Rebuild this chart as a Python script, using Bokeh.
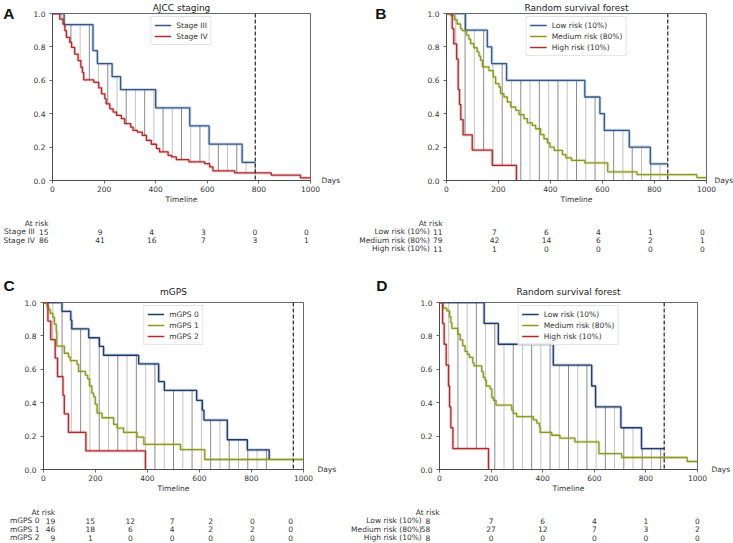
from bokeh.plotting import figure
from bokeh.models import (Legend, LegendItem, FixedTicker, Range1d, Span, NumeralTickFormatter,
                          LinearAxis, CustomJSTickFormatter)
from bokeh.layouts import row, column
from bokeh.core.properties import value
from bokeh.embed import file_html
from bokeh.resources import INLINE

# ---------------- data ----------------
x_ticks = [0, 200, 400, 600, 800, 1000]
y_ticks = [0.0, 0.2, 0.4, 0.6, 0.8, 1.0]

# Panel A: AJCC staging
A_stage3_t = [0, 45, 157, 174, 231, 264, 400, 532, 607, 735, 786]
A_stage3_s = [1.0, 0.933, 0.778, 0.700, 0.622, 0.544, 0.435, 0.327, 0.218, 0.109, 0.109]
A_stage4_t = [0, 28, 41, 48, 54, 67, 74, 86, 99, 110, 116, 121, 160, 179, 190, 203, 208, 222, 235, 248,
              267, 280, 303, 312, 329, 348, 364, 383, 403, 415, 448, 461, 480, 529, 590, 609, 622, 706, 848, 961, 1000]
A_stage4_s = [1.0, 0.966, 0.936, 0.897, 0.857, 0.827, 0.797, 0.757, 0.718, 0.678, 0.648, 0.602, 0.588, 0.555, 0.519,
              0.489, 0.459, 0.429, 0.410, 0.390, 0.370, 0.340, 0.320, 0.300, 0.290, 0.270, 0.240, 0.217, 0.191, 0.171,
              0.151, 0.141, 0.125, 0.111, 0.101, 0.082, 0.058, 0.046, 0.032, 0.016, 0.016]
A_labels = ["Stage III", "Stage IV"]
A_atrisk_t = [0, 200, 400, 600, 800, 1000]
A_atrisk = [[15, 9, 4, 3, 0, 0], [86, 41, 16, 7, 3, 1]]

# Panel B: Random survival forest
B_low_t = [0, 73, 157, 174, 231, 532, 590, 607, 703, 784, 851]
B_low_s = [1.0, 0.9, 0.8, 0.7, 0.6, 0.5, 0.4, 0.3, 0.2, 0.1, 0.1]
B_med_t = [0, 15, 31, 41, 54, 60, 77, 86, 93, 105, 118, 125, 131, 138, 163, 180, 189, 202, 208, 221,
           234, 247, 266, 279, 298, 311, 330, 343, 362, 375, 388, 398, 414, 446, 459, 481, 532, 620, 733, 963, 1000]
B_med_s = [1.0, 0.987, 0.962, 0.937, 0.91, 0.898, 0.87, 0.846, 0.82, 0.795, 0.77, 0.745, 0.72, 0.68, 0.658,
           0.62, 0.58, 0.56, 0.52, 0.5, 0.47, 0.44, 0.42, 0.395, 0.37, 0.345, 0.33, 0.31, 0.275, 0.25,
           0.225, 0.2, 0.18, 0.155, 0.135, 0.12, 0.105, 0.052, 0.035, 0.017, 0.017]
B_high_t = [0, 22, 28, 39, 45, 50, 55, 64, 99, 176, 269]
B_high_s = [1.0, 0.909, 0.818, 0.727, 0.545, 0.455, 0.364, 0.273, 0.182, 0.091, 0.0]
B_labels = ["Low risk (10%)", "Medium risk (80%)", "High risk (10%)"]
B_atrisk_t = [0, 200, 400, 600, 800, 1000]
B_atrisk = [[11, 7, 6, 4, 1, 0], [79, 42, 14, 6, 2, 1], [11, 1, 0, 0, 0, 0]]

# Panel C: mGPS
C_g0_t = [0, 71, 105, 109, 174, 215, 231, 366, 443, 465, 589, 611, 617, 707, 784, 868]
C_g0_s = [1.0, 0.947, 0.895, 0.842, 0.789, 0.737, 0.684, 0.632, 0.526, 0.474, 0.414, 0.355, 0.296, 0.178, 0.118, 0.059]
C_g1_t = [0, 13, 19, 26, 36, 42, 49, 51, 80, 96, 103, 129, 135, 161, 170, 177, 186, 193, 199, 206,
          225, 270, 283, 308, 360, 386, 527, 620, 1000]
C_g1_s = [1.0, 0.978, 0.957, 0.935, 0.913, 0.87, 0.826, 0.739, 0.696, 0.674, 0.652, 0.63, 0.587, 0.565, 0.543,
          0.5, 0.457, 0.435, 0.391, 0.337, 0.31, 0.27, 0.248, 0.222, 0.194, 0.15, 0.119, 0.06, 0.06]
C_g2_t = [0, 17, 28, 45, 54, 75, 80, 96, 163, 392]
C_g2_s = [1.0, 0.889, 0.778, 0.667, 0.556, 0.444, 0.333, 0.222, 0.111, 0.0]
C_labels = ["mGPS 0", "mGPS 1", "mGPS 2"]
C_atrisk_t = [0, 180, 334, 495, 643, 803, 951]
C_atrisk = [[19, 15, 12, 7, 2, 0, 0], [46, 18, 6, 4, 2, 2, 0], [9, 1, 0, 0, 0, 0, 0]]

# Panel D: Random survival forest
D_low_t = [0, 173, 228, 441, 590, 605, 703, 783, 871]
D_low_s = [1.0, 0.875, 0.75, 0.625, 0.5, 0.375, 0.25, 0.125, 0.125]
D_med_t = [0, 13, 15, 28, 39, 44, 48, 71, 80, 90, 99, 108, 116, 129, 134, 164, 170, 177, 181, 196,
           203, 209, 219, 280, 286, 299, 364, 377, 387, 390, 435, 467, 525, 618, 706, 960, 1000]
D_med_s = [1.0, 0.983, 0.966, 0.95, 0.914, 0.88, 0.845, 0.81, 0.776, 0.741, 0.707, 0.69, 0.672, 0.638, 0.62,
           0.586, 0.552, 0.535, 0.5, 0.483, 0.431, 0.414, 0.386, 0.355, 0.336, 0.317, 0.297, 0.278, 0.257,
           0.222, 0.205, 0.188, 0.165, 0.095, 0.072, 0.048, 0.048]
D_high_t = [0, 12, 18, 26, 35, 39, 44, 52, 190]
D_high_s = [1.0, 0.875, 0.75, 0.625, 0.5, 0.375, 0.25, 0.125, 0.0]
D_labels = ["Low risk (10%)", "Medium risk (80%)", "High risk (10%)"]
D_atrisk_t = [0, 200, 400, 600, 800, 1000]
D_atrisk = [[8, 7, 6, 4, 1, 0], [58, 27, 12, 7, 3, 2], [8, 0, 0, 0, 0, 0]]

rmst_t = {"A": 786, "B": 851, "C": 961, "D": 871}
titles = {"A": "AJCC staging", "B": "Random survival forest", "C": "mGPS", "D": "Random survival forest"}

# ---------------- style / geometry ----------------
FONT = "DejaVu Sans"
FS = "7.5px"
TITLE_FS = "9px"
LETTER_FS = "15.5px"
BLUE = "#33598a"
NAVY = "#1e3b6d"
RED = "#b3282d"
GREEN = "#8a9a1f"
AX = "#444444"
TXT = "#333333"
AXIS_H = 26      # bottom border of each survival plot (x axis + label)
LEFT_W = 360     # width of left column
RIGHT_W = 373    # width of right column
TOTAL_W = LEFT_W + RIGHT_W


def surv_at(t, s, x):
    if x > t[-1]:
        return 0.0
    v = s[0]
    for ti, si in zip(t, s):
        if ti <= x:
            v = si
        else:
            break
    return v


def blank_fig(width, height, xr, yr):
    f = figure(width=width, height=height, x_range=xr, y_range=yr, x_axis_type=None, y_axis_type=None,
               min_border_left=0, min_border_right=0, min_border_top=0, min_border_bottom=0,
               output_backend="svg", toolbar_location=None, tools="")
    f.outline_line_color = None
    f.background_fill_color = "white"
    f.border_fill_color = "white"
    return f


def txt(f, xs, ys, texts, align, baseline="middle", size=FS, font=FONT, style="normal", color=TXT):
    f.text(x=xs, y=ys, text=texts, text_align=align, text_baseline=baseline,
           text_font=value(font), text_font_size=value(size), text_font_style=style, text_color=color)


def km_plot(key, fw, fh, bl, br, bt, series, days_dx, letter_standoff=None, with_title=True):
    p = figure(frame_width=fw, frame_height=fh, min_border_left=bl, min_border_right=br,
               min_border_top=bt, min_border_bottom=AXIS_H,
               x_range=Range1d(0, 1000), y_range=Range1d(0, 1),
               output_backend="svg", toolbar_location=None, tools="")
    p.grid.visible = False
    p.outline_line_color = AX
    p.outline_line_width = 0.8
    p.background_fill_color = "white"
    p.border_fill_color = "white"
    xa, ya = p.xaxis[0], p.yaxis[0]
    for ax in (xa, ya):
        ax.axis_line_color = AX
        ax.axis_line_width = 0.8
        ax.major_tick_line_color = AX
        ax.major_tick_line_width = 0.8
        ax.major_tick_out = 3
        ax.major_tick_in = 0
        ax.minor_tick_line_color = None
        ax.major_label_text_font = FONT
        ax.major_label_text_font_size = FS
        ax.major_label_text_color = TXT
    xa.ticker = FixedTicker(ticks=x_ticks)
    ya.ticker = FixedTicker(ticks=y_ticks)
    ya.formatter = NumeralTickFormatter(format="0.0")
    xa.major_label_standoff = 2
    ya.major_label_standoff = 4
    xa.axis_label = "Timeline"
    xa.axis_label_text_font = FONT
    xa.axis_label_text_font_size = FS
    xa.axis_label_text_font_style = "normal"
    xa.axis_label_text_color = TXT
    xa.axis_label_standoff = 0

    # "Days" unit label at the right end of the time axis
    days_ax = LinearAxis(ticker=FixedTicker(ticks=[0.0]), formatter=CustomJSTickFormatter(code="return 'Days';"),
                         axis_line_color=None, major_tick_line_color=None, minor_tick_line_color=None,
                         major_tick_out=0, major_tick_in=0, major_label_standoff=int(days_dx),
                         major_label_text_font=FONT, major_label_text_font_size=FS,
                         major_label_text_color=TXT)
    p.add_layout(days_ax, "right")

    if letter_standoff is not None:
        let_ax = LinearAxis(ticker=FixedTicker(ticks=[1.0]),
                            formatter=CustomJSTickFormatter(code="return '%s';" % key),
                            axis_line_color=None, major_tick_line_color=None, minor_tick_line_color=None,
                            major_tick_out=0, major_tick_in=0, major_label_standoff=int(letter_standoff),
                            major_label_text_font="Liberation Sans", major_label_text_font_size=LETTER_FS,
                            major_label_text_font_style="bold", major_label_text_color="#111111")
        p.add_layout(let_ax, "left")
    if with_title:
        p.title.text = titles[key]
        p.title.align = "center"
        p.title.text_font = FONT
        p.title.text_font_size = TITLE_FS
        p.title.text_font_style = "normal"
        p.title.text_color = "#222222"
        p.title.standoff = 1

    # hatch between curves (restricted mean survival area)
    t_end = series[0][0][-1]
    step = 1000.0 / 28.0
    hx, hy0, hy1, hc = [], [], [], []
    k = 1
    while k * step < t_end:
        x = k * step
        vals = [surv_at(t, s, x) for (t, s, c, l) in series]
        top, bot = max(vals), min(vals)
        if top > bot:
            hx.append(x)
            hy0.append(bot)
            hy1.append(top)
            hc.append("#8c8c8c" if k % 2 == 0 else "#c4c4c4")
        k += 1
    p.segment(x0=hx, y0=hy0, x1=hx, y1=hy1, line_color=hc, line_width=1)

    items = []
    for (t, s, c, l) in series:
        p.step(t, s, mode="after", line_color=c, line_width=3.2, line_alpha=0.22)
    for (t, s, c, l) in series:
        r = p.step(t, s, mode="after", line_color=c, line_width=1.3)
        items.append(LegendItem(label=l, renderers=[r]))

    p.add_layout(Span(location=rmst_t[key], dimension="height", line_color="#333333",
                      line_dash="4 2", line_width=1.3))

    leg = Legend(items=items, location="top_center")
    leg.label_text_font = FONT
    leg.label_text_font_size = FS
    leg.label_text_color = TXT
    leg.glyph_width = 17
    leg.glyph_height = 10
    leg.label_height = 10
    leg.label_standoff = 5
    leg.spacing = 1
    leg.padding = 3
    leg.margin = 3
    leg.border_line_color = "#cccccc"
    leg.border_line_width = 0.8
    leg.background_fill_alpha = 0.85
    p.add_layout(leg)
    return p


def add_table(tb, x0, bl, fw, at_t, at_rows, row_names, first_dx, lab_dx, hdr_dx):
    """Number-at-risk table; x0 = left of the panel column, times mapped with the panel's time scale."""
    ppx = fw / 1000.0

    def X(t):
        return x0 + bl + t * ppx

    txt(tb, [X(at_t[0]) + hdr_dx], [42.5 - AXIS_H], ["At risk"], "right")
    ys = [51.0 + 8.6 * i - AXIS_H for i in range(len(at_rows))]
    txt(tb, [X(at_t[0]) + lab_dx] * len(ys), ys, row_names, "right")
    txt(tb, [X(at_t[0]) + first_dx] * len(ys), ys, [str(r[0]) for r in at_rows], "right")
    cx, cy, ct = [], [], []
    for yv, counts in zip(ys, at_rows):
        for tt, cnt in zip(at_t[1:], counts[1:]):
            cx.append(X(tt))
            cy.append(yv)
            ct.append(str(cnt))
    txt(tb, cx, cy, ct, "center")


# geometry per panel: frame width, frame height, left border, right border
GA = dict(fw=258, fh=167, bl=48, br=54)
GB = dict(fw=260, fh=167, bl=82, br=31)
GC = dict(fw=260, fh=167, bl=43, br=57)
GD = dict(fw=258, fh=167, bl=79, br=36)

pA = km_plot("A", bt=13, series=[(A_stage3_t, A_stage3_s, BLUE, A_labels[0]),
                                 (A_stage4_t, A_stage4_s, RED, A_labels[1])],
             days_dx=11, letter_standoff=16, **GA)
pB = km_plot("B", bt=13, series=[(B_low_t, B_low_s, BLUE, B_labels[0]), (B_med_t, B_med_s, GREEN, B_labels[1]),
                                 (B_high_t, B_high_s, RED, B_labels[2])],
             days_dx=8, letter_standoff=38, **GB)
pC = km_plot("C", bt=5, series=[(C_g0_t, C_g0_s, NAVY, C_labels[0]), (C_g1_t, C_g1_s, GREEN, C_labels[1]),
                                (C_g2_t, C_g2_s, RED, C_labels[2])],
             days_dx=14, with_title=False, **GC)
pD = km_plot("D", bt=5, series=[(D_low_t, D_low_s, NAVY, D_labels[0]), (D_med_t, D_med_s, GREEN, D_labels[1]),
                                (D_high_t, D_high_s, RED, D_labels[2])],
             days_dx=14, with_title=False, **GD)

# at-risk tables (full width, pixel coordinates)
TAB1_H = 56
tab1 = blank_fig(TOTAL_W, TAB1_H, Range1d(0, TOTAL_W), Range1d(TAB1_H, 0))
add_table(tab1, 0, GA["bl"], GA["fw"], A_atrisk_t, A_atrisk, A_labels, 0, -13.7, 0)
add_table(tab1, LEFT_W, GB["bl"], GB["fw"], B_atrisk_t, B_atrisk, B_labels, 0, -12.6, 0)

TAB2_H = 47
tab2 = blank_fig(TOTAL_W, TAB2_H, Range1d(0, TOTAL_W), Range1d(TAB2_H, 0))
add_table(tab2, 0, GC["bl"], GC["fw"], C_atrisk_t, C_atrisk, C_labels, 11.7, -4.0, 11.7)
add_table(tab2, LEFT_W, GD["bl"], GD["fw"], D_atrisk_t, D_atrisk, D_labels, -9.3, -17.7, 0)

# header of lower row: panel letters and titles (y = px above the plot frames)
HEAD_H = 35
head = blank_fig(TOTAL_W, HEAD_H, Range1d(0, TOTAL_W), Range1d(5, 5 + HEAD_H))
txt(head, [GC["bl"] + GC["fw"] / 2, LEFT_W + GD["bl"] + GD["fw"] / 2], [10.5, 10.5],
    [titles["C"], titles["D"]], "center", baseline="middle", size=TITLE_FS, color="#222222")
txt(head, [GC["bl"] - 40, LEFT_W + GD["bl"] - 63.3], [16.9, 16.9], ["C", "D"], "left", baseline="middle",
    size=LETTER_FS, font="Liberation Sans", style="bold", color="#111111")

layout = column(row(pA, pB), tab1, head, row(pC, pD), tab2)
open("out.html", "w").write(file_html(layout, INLINE))
